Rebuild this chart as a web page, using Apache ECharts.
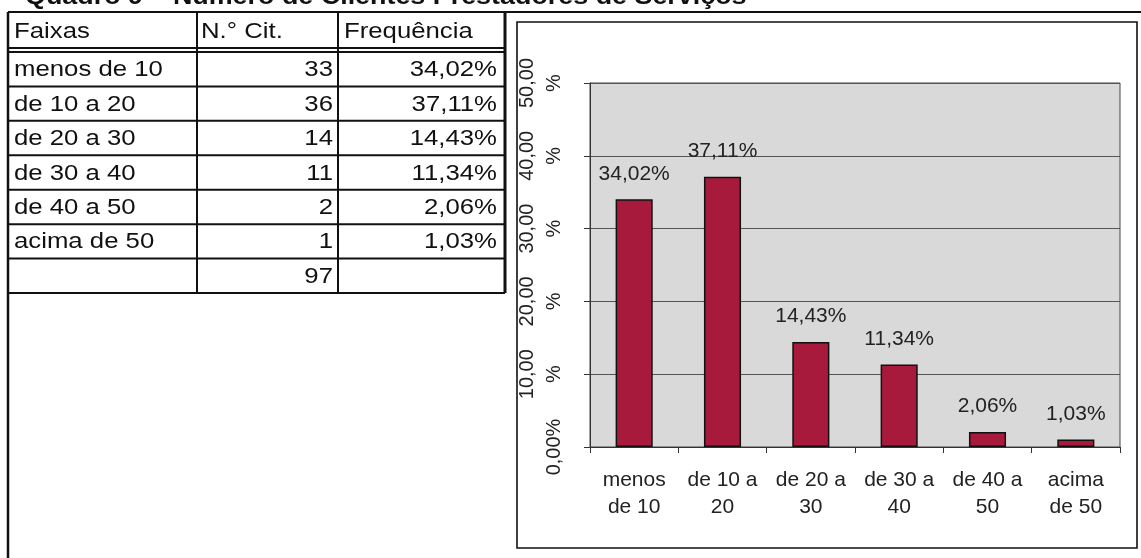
<!DOCTYPE html>
<html>
<head>
<meta charset="utf-8">
<script src="https://cdn.jsdelivr.net/npm/echarts@6/dist/echarts.min.js"></script>
<style>
html,body{margin:0;padding:0;background:#fff;}
#chart{width:1141px;height:558px;}
</style>
</head>
<body>
<div id="chart"></div>
<script>
// ---- data ----
const titleText = 'Quadro 9 – Número de Clientes Prestadores de Serviços';
const headers = ['Faixas', 'N.° Cit.', 'Frequência'];
const categories = ['menos de 10', 'de 10 a 20', 'de 20 a 30', 'de 30 a 40', 'de 40 a 50', 'acima de 50'];
const axisLabels = ['menos\nde 10', 'de 10 a\n20', 'de 20 a\n30', 'de 30 a\n40', 'de 40 a\n50', 'acima\nde 50'];
const counts = [33, 36, 14, 11, 2, 1];
const total = 97;
const freqs = [34.02, 37.11, 14.43, 11.34, 2.06, 1.03];

// ---- helpers ----
const FONT = "'Liberation Sans', Arial, Helvetica, sans-serif";
const fmt = v => v.toFixed(2).replace('.', ',');

// ---- table layout ----
const colX = [8, 197, 338, 505];
const tTop = 13, headBottom = 48, bodyTop = 52, rowH = 34.43;
const nRows = categories.length + 1;
const tBottom = bodyTop + rowH * nRows;
const tFont = 22, tScale = 1.17;

const g = [];
function line(x1, y1, x2, y2, w) {
  g.push({type: 'line', silent: true, z: 10,
    shape: {x1, y1, x2, y2}, style: {stroke: '#111', lineWidth: w}});
}
function text(str, x, y, align, opts) {
  opts = opts || {};
  g.push({type: 'text', silent: true, z: 11, x, y, scaleX: opts.sx || tScale,
    style: {text: str, x: 0, y: 0, align, verticalAlign: 'middle',
      fontSize: opts.fs || tFont, fontWeight: opts.fw || 'normal',
      fontFamily: FONT, fill: opts.fill || '#111'}});
}

// title (partly cut off at top, as in reference)
text(titleText, 25, -3, 'left', {fs: 24, fw: 'bold', sx: 1.12});

// outer frame
line(8, 12, 1141, 12, 2);
line(8, 12, 8, 558, 2.5);

// table horizontal lines
line(colX[0], headBottom, colX[3], headBottom, 2);
line(colX[0], bodyTop, colX[3], bodyTop, 2);
for (let i = 1; i <= nRows; i++) {
  line(colX[0], bodyTop + rowH * i, colX[3], bodyTop + rowH * i, 2);
}
// table vertical lines
line(colX[1], tTop, colX[1], tBottom, 2);
line(colX[2], tTop, colX[2], tBottom, 2);
line(colX[3], tTop, colX[3], tBottom, 3);

// header texts
const hy = (tTop + headBottom) / 2 + 1;
text(headers[0], colX[0] + 6, hy, 'left');
text(headers[1], colX[1] + 4, hy, 'left');
text(headers[2], colX[2] + 6, hy, 'left');

// body
for (let i = 0; i < categories.length; i++) {
  const cy = bodyTop + rowH * (i + 0.5) + 1;
  text(categories[i], colX[0] + 6, cy, 'left');
  text(String(counts[i]), colX[2] - 5, cy, 'right');
  text(fmt(freqs[i]) + '%', colX[3] - 8, cy, 'right');
}
text(String(total), colX[2] - 5, bodyTop + rowH * (nRows - 0.5) + 1, 'right');

// chart frame
g.push({type: 'rect', silent: true, z: 0,
  shape: {x: 517, y: 22, width: 620, height: 526},
  style: {fill: 'none', stroke: '#111', lineWidth: 1.6}});

const chart = echarts.init(document.getElementById('chart'), null, {renderer: 'canvas'});
chart.setOption({
  animation: false,
  backgroundColor: '#ffffff',
  textStyle: {fontFamily: FONT},
  grid: {left: 590, right: 21, top: 83, bottom: 111, show: true,
    backgroundColor: '#d9d9d9', borderColor: '#444', borderWidth: 1},
  xAxis: {
    type: 'category',
    data: axisLabels,
    axisLine: {lineStyle: {color: '#333', width: 1}},
    axisTick: {show: true, length: 6, lineStyle: {color: '#333'}},
    axisLabel: {color: '#222', fontSize: 21, lineHeight: 27, margin: 20, interval: 0, fontFamily: FONT}
  },
  yAxis: {
    type: 'value',
    min: 0, max: 50, interval: 10,
    axisLine: {show: true, lineStyle: {color: '#333', width: 1}},
    axisTick: {show: true, length: 6, lineStyle: {color: '#333'}},
    splitLine: {show: true, lineStyle: {color: '#555', width: 1}},
    axisLabel: {
      rotate: 90, color: '#222', fontSize: 20, lineHeight: 27, margin: 22, fontFamily: FONT,
      formatter: v => v === 0 ? '0,00%' : fmt(v) + '\n%'
    }
  },
  series: [{
    type: 'bar',
    data: freqs,
    barWidth: '42%',
    itemStyle: {color: '#a81a3b', borderColor: '#111', borderWidth: 1.5},
    label: {show: true, position: 'top', distance: 15, color: '#222', fontSize: 21,
      fontFamily: FONT, formatter: p => fmt(p.value) + '%'}
  }],
  graphic: g
});
</script>
</body>
</html>
